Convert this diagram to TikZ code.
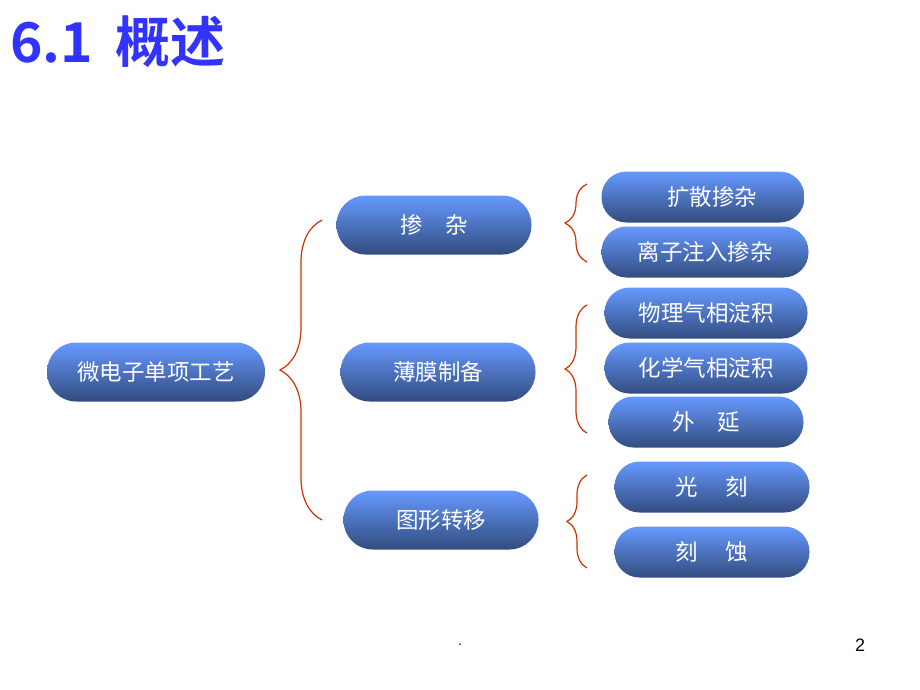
\documentclass[tikz,border=0pt]{standalone}
\usepackage{fontspec}
\setmainfont{Liberation Sans}
\newfontfamily\cjk{Noto Sans CJK SC}
\newfontfamily\cjkbold{Noto Sans CJK SC Bold}
\usetikzlibrary{decorations.pathreplacing}
\definecolor{pillTop}{RGB}{102,153,255}
\definecolor{pillBot}{RGB}{50,76,126}
\definecolor{braceRed}{RGB}{204,51,0}
\definecolor{titleBlue}{RGB}{51,51,255}

\begin{document}
\begin{tikzpicture}[x=1pt,y=-1pt]
  \tikzstyle{Pill}=[rounded corners=25pt,top color=pillTop,bottom color=pillBot,
                    text=white,inner sep=0pt,minimum height=51pt,minimum width=203pt,
                    font=\cjk\fontsize{22.5}{22.5}\selectfont]
  \tikzstyle{BigPill}=[Pill,rounded corners=29pt,minimum height=59pt,minimum width=195pt]
  \tikzstyle{Brace}=[draw=braceRed,line width=1.2pt,decorate]
  \useasboundingbox (0,0) rectangle (920,690);
  \node[anchor=west,text=titleBlue,font=\cjkbold\fontsize{55}{55}\selectfont] (title) at (7,42) {6.1\hspace{22pt}概述};
  \node[BigPill,minimum width=218pt] (root) at (156,372) {微电子单项工艺};
  \node[BigPill] (doping) at (434,225) {掺\quad 杂};
  \node[BigPill] (film) at (438,372) {薄膜制备};
  \node[BigPill] (pattern) at (441,520) {图形转移};
  \node[Pill] (diffuse) at (703,197) {\hspace*{18pt}扩散掺杂};
  \node[Pill,minimum width=207pt] (implant) at (705,252) {离子注入掺杂};
  \node[Pill] (pvd) at (706,313) {物理气相淀积};
  \node[Pill] (cvd) at (706,368) {化学气相淀积};
  \node[Pill,minimum width=195pt] (epi) at (706,422) {外\quad 延};
  \node[Pill,minimum width=195pt] (litho) at (712,487) {光\quad\ 刻};
  \node[Pill,minimum width=195pt] (etch) at (712,552) {刻\quad\ 蚀};
  \coordinate (bigT) at (322,220);
  \coordinate (bigB) at (322,520);
  \coordinate (dopT) at (587,184);
  \coordinate (dopB) at (587,262);
  \coordinate (filmT) at (587,305);
  \coordinate (filmB) at (587,433);
  \coordinate (patT) at (587,475);
  \coordinate (patB) at (587,568);
  \draw[Brace,decoration={brace,amplitude=42pt}] (bigB) -- (bigT);
  \draw[Brace,decoration={brace,amplitude=22pt}] (dopB) -- (dopT);
  \draw[Brace,decoration={brace,amplitude=22pt}] (filmB) -- (filmT);
  \draw[Brace,decoration={brace,amplitude=20pt}] (patB) -- (patT);
  \node[font=\fontsize{14}{14}\selectfont] (dot) at (460,645) {.};
  \node[font=\fontsize{18}{18}\selectfont] (page) at (860,645) {2};
\end{tikzpicture}
\end{document}
